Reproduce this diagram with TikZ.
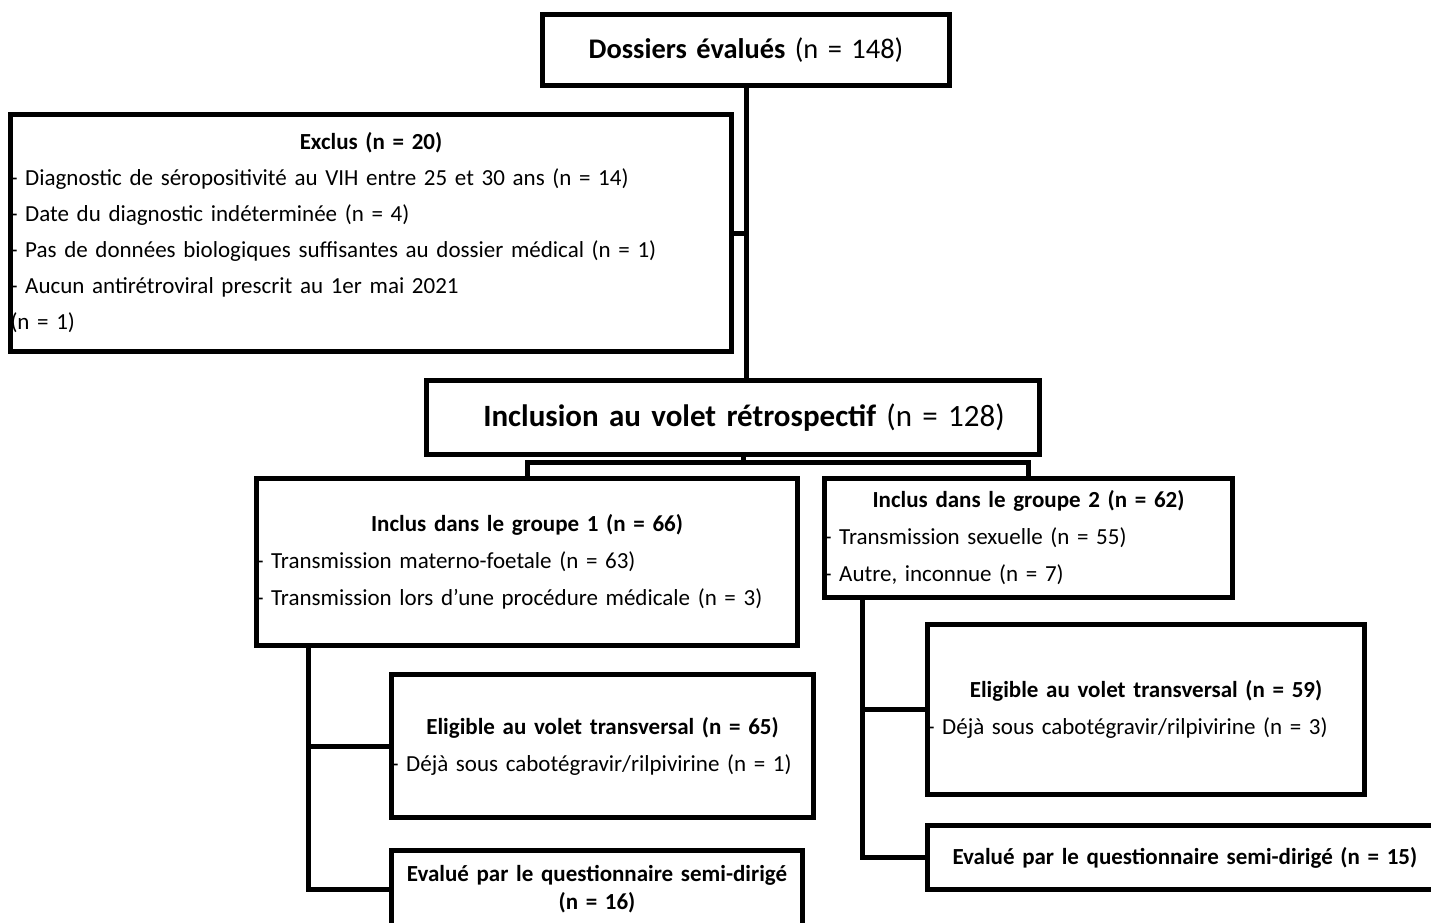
\documentclass[tikz,border=0pt]{standalone}
\usepackage{fontspec}
\setmainfont{Carlito}
\tikzset{x=1pt, y=-1pt,
    box/.style={
        draw,
        line width=5pt,
        anchor=north west,
        inner xsep=0pt,
        inner ysep=0pt,
        align=left,
        font=\fontsize{23}{37}\selectfont},
    link/.style={
        draw,
        line width=5pt}}

\begin{document}
\begin{tikzpicture}
        \useasboundingbox (0,0) rectangle (1431,922);
        \clip (0,0) rectangle (1431,922);

        \node[box, align=center, font=\fontsize{28.4}{34}\selectfont, text width=407pt, minimum height=71pt] (dossiers) at (540,12) {\textbf{Dossiers évalués} (n = 148)};
        \node[box, font=\fontsize{23}{36}\selectfont, text width=721pt, minimum height=237pt] (exclus) at (8,112) {\makebox[\hsize]{\bfseries Exclus (n = 20)}\\
            - Diagnostic de séropositivité au VIH entre 25 et 30 ans (n = 14)\\
            - Date du diagnostic indéterminée (n = 4)\\
            - Pas de données biologiques suffisantes au dossier médical (n = 1)\\
            - Aucun antirétroviral prescrit au 1er mai 2021\\
            (n = 1)};
        \node[box, align=center, font=\fontsize{31}{37}\selectfont, text width=613pt, minimum height=74pt] (inclusion) at (424,378) {\hspace*{22pt}\textbf{Inclusion au volet rétrospectif} (n = 128)};

        \node[box, text width=541pt, minimum height=167pt] (groupe1) at (254,476) {\makebox[\hsize]{\bfseries Inclus dans le groupe 1 (n = 66)}\\
            - Transmission materno-foetale (n = 63)\\
            - Transmission lors d'une procédure médicale (n = 3)};
        \node[box, text width=408pt, minimum height=119pt] (groupe2) at (822,476) {\makebox[\hsize]{\bfseries Inclus dans le groupe 2 (n = 62)}\\
            - Transmission sexuelle (n = 55)\\
            - Autre, inconnue (n = 7)};

        \node[box, text width=422pt, minimum height=143pt] (eligible1) at (389,672) {\makebox[\hsize]{\bfseries Eligible au volet transversal (n = 65)}\\
            - Déjà sous cabotégravir/rilpivirine (n = 1)};
        \node[box, align=center, font=\bfseries\fontsize{23}{28}\selectfont, text width=411pt, minimum height=77pt] (evalue1) at (389,848) {Evalué par le questionnaire semi-dirigé\\(n = 16)};

        \node[box, text width=437pt, minimum height=170pt] (eligible2) at (925,622) {\makebox[\hsize]{\bfseries Eligible au volet transversal (n = 59)}\\
            - Déjà sous cabotégravir/rilpivirine (n = 3)};
        \node[box, font=\bfseries\fontsize{23}{28}\selectfont, text width=600pt, minimum height=64pt] (evalue2) at (925,823) {\hspace*{25pt}Evalué par le questionnaire semi-dirigé (n = 15)};

        \coordinate (split) at (743,462);

        \draw[link] (dossiers.south) -- (dossiers.south |- inclusion.north);
        \draw[link] (exclus.east) -- (exclus.east -| dossiers.south);
        \draw[link] (split |- inclusion.south) -- (split);
        \draw[link] (groupe1.north) |- (split) -| (groupe2.north);

        \draw[link] ([xshift=54pt]groupe1.south west) |- (eligible1.west);
        \draw[link] ([xshift=54pt]groupe1.south west) |- (evalue1.west);
        \draw[link] ([xshift=40pt]groupe2.south west) |- (eligible2.west);
        \draw[link] ([xshift=40pt]groupe2.south west) |- (evalue2.west);
    \end{tikzpicture}
\end{document}
